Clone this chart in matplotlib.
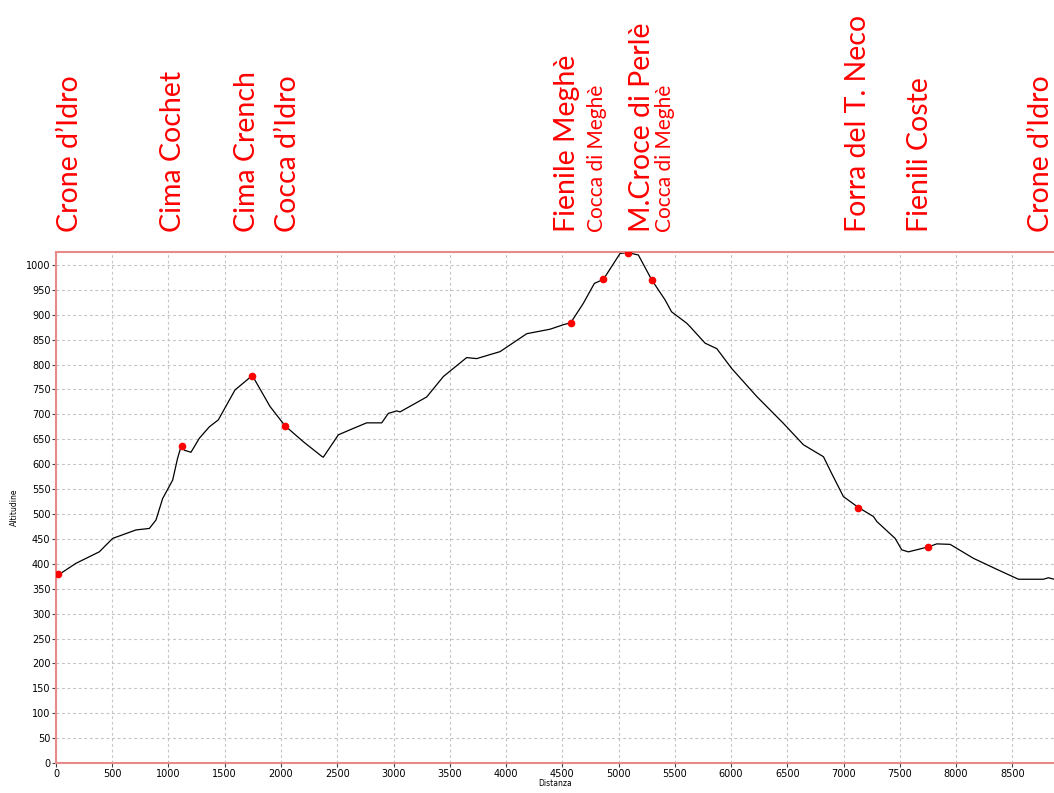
import numpy as np
import matplotlib.pyplot as plt
from matplotlib import transforms

# profilo altimetrico (distanza in m, altitudine in m)
distanza = [0, 30, 178, 385, 504, 711, 830, 889, 948, 1037, 1081, 1111, 1120, 1141, 1200,
            1274, 1363, 1443, 1591, 1745, 1902, 2036, 2199, 2361, 2376, 2510, 2613, 2761,
            2895, 2954, 3028, 3058, 3295, 3443, 3650, 3739, 3947, 4184, 4391, 4509, 4575,
            4687, 4785, 4865, 5013, 5081, 5176, 5295, 5413, 5471, 5606, 5636, 5769, 5873,
            6006, 6228, 6465, 6643, 6821, 6895, 6998, 7132, 7265, 7295, 7458, 7517, 7576,
            7754, 7828, 7947, 8154, 8361, 8554, 8776, 8820, 8870]
altitudine = [378, 379, 401, 424, 451, 468, 471, 488, 531, 568, 612, 635, 637, 628, 624,
              652, 675, 689, 749, 778, 716, 677, 645, 616, 614, 659, 669, 683,
              683, 702, 707, 705, 735, 776, 814, 812, 826, 862, 871, 880, 884,
              923, 963, 971, 1023, 1025, 1020, 970, 930, 906, 883, 876, 843, 832,
              792, 736, 682, 639, 615, 581, 535, 513, 495, 485, 451, 428, 424,
              434, 440, 439, 411, 389, 369, 369, 372, 369]

# punti notevoli
punti_x = [20, 1120, 1745, 2036, 4575, 4865, 5081, 5295, 7132, 7754]
punti_y = [380, 637, 778, 677, 884, 971, 1025, 970, 513, 434]

# etichette in alto
nomi = ["Crone d\u2019Idro", "Cima Cochet", "Cima Crench", "Cocca d\u2019Idro",
        "Fienile Megh\u00e8", "M.Croce di Perl\u00e8", "Forra del T. Neco",
        "Fienili Coste", "Crone d\u2019Idro"]
nomi_x = [125, 1040, 1700, 2060, 4545, 5210, 7130, 7680, 8755]
sotto = ["Cocca di Megh\u00e8", "Cocca di Megh\u00e8"]
sotto_x = [4810, 5410]

fig = plt.figure(figsize=(10.54, 7.93), dpi=100)
ax = fig.add_axes([0.0531, 0.0378, 0.9469, 0.6444])

ax.plot(distanza, altitudine, color='black', lw=0.9)
ax.plot(punti_x, punti_y, 'o', color='red', ms=4.5, zorder=3)

ax.set_xlim(0, 8870)
ax.set_ylim(0, 1026)
ax.set_xticks(np.arange(0, 8501, 500))
ax.set_yticks(np.arange(0, 1001, 50))
ax.grid(True, ls=(0, (2.5, 2.5)), color='#c4c4c4', lw=0.8)
ax.tick_params(labelsize=7, length=3, width=0.8, color='#444444', pad=1)
for lab in ax.get_xticklabels() + ax.get_yticklabels():
    lab.set_family('Liberation Sans Narrow')

for s in ['left', 'top', 'bottom']:
    ax.spines[s].set_color('#e88a8a')
    ax.spines[s].set_linewidth(1.5)
ax.spines['right'].set_visible(False)

ax.set_xlabel('Distanza', fontsize=5.5, labelpad=0)
ax.set_ylabel('Altitudine', fontsize=5.5, labelpad=5)

trans = transforms.blended_transform_factory(ax.transData, fig.transFigure)
base = (793 - 232) / 793
for n, x in zip(nomi, nomi_x):
    ax.text(x, base, n, rotation=90, ha='center', va='bottom', color='red',
            fontsize=20.5, family='Lato', transform=trans, clip_on=False)
for n, x in zip(sotto, sotto_x):
    ax.text(x, base, n, rotation=90, ha='center', va='bottom', color='red',
            fontsize=15, family='Lato', transform=trans, clip_on=False)

fig.savefig('out.png', dpi=100)
